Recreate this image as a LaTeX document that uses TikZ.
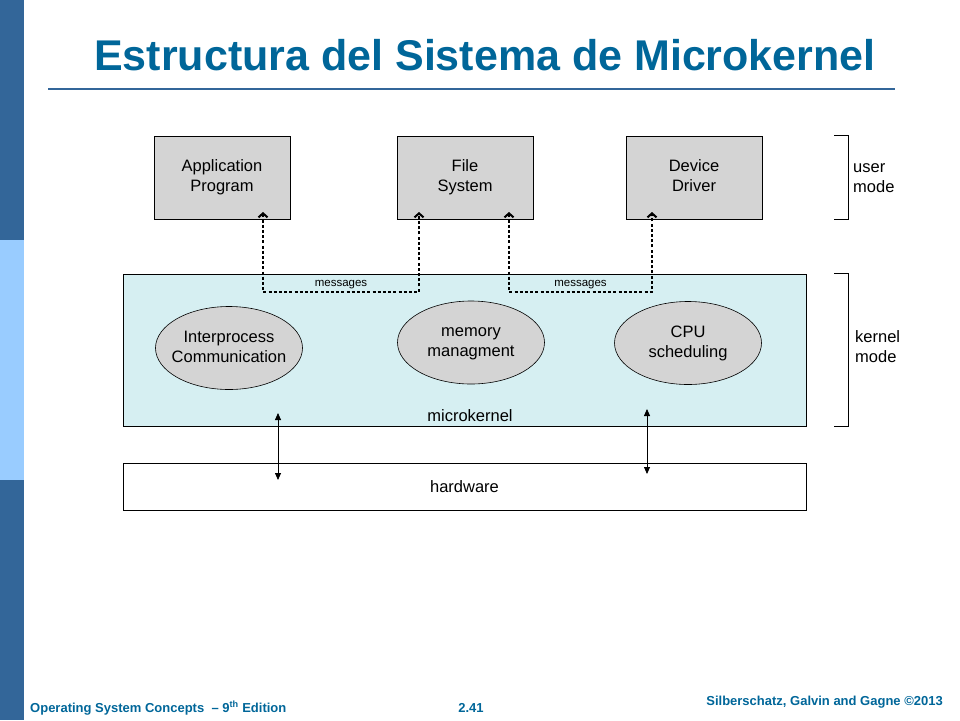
\documentclass[tikz,border=0pt]{standalone}
\usepackage{fontspec}
\setmainfont{Liberation Sans}
\usetikzlibrary{arrows.meta, shapes.geometric}
\definecolor{slideblue}{RGB}{51,102,153}
\definecolor{barlight}{RGB}{153,204,255}
\definecolor{titleblue}{RGB}{0,102,153}
\definecolor{boxgray}{RGB}{212,212,212}
\definecolor{kernelcyan}{RGB}{214,239,242}
% two centred lines, set a little lower in their node
\newcommand\twoline[2]{\raisebox{-2pt}{\strut#1}\\\raisebox{-2pt}{#2\strut}}
\tikzset{
  modbox/.style={draw=black, fill=boxgray, line width=0.8pt, minimum width=136pt,
    minimum height=83pt, align=center, inner sep=0pt, font=\fontsize{16.5}{20}\selectfont},
  layerbox/.style={draw=black, line width=0.8pt, minimum width=683pt, inner sep=0pt},
  service/.style={ellipse, draw=black, fill=boxgray, line width=0.6pt, minimum width=147pt,
    minimum height=83pt, inner xsep=-6pt, inner ysep=0pt, align=center,
    font=\fontsize{16.5}{20}\selectfont},
  lbl/.style={align=left, inner sep=0pt, font=\fontsize{16.5}{20}\selectfont},
  msg/.style={line width=2pt, dash pattern=on 3pt off 2.2pt,
    {Straight Barb[length=4pt,width=9pt,line width=2pt]}-{Straight Barb[length=4pt,width=9pt,line width=2pt]}},
  msglabel/.style={inner sep=2.5pt, font=\fontsize{11.5}{12}\selectfont},
  updown/.style={line width=0.8pt, {Triangle[length=7pt,width=6pt]}-{Triangle[length=7pt,width=6pt]}},
  footer/.style={inner sep=0pt, text=titleblue, font=\bfseries\fontsize{13}{15}\selectfont}
}
\begin{document}
\begin{tikzpicture}[x=1pt, y=-1pt]
  \useasboundingbox (0,0) rectangle (960,720);
  % slide frame
  \fill[slideblue] (0,0) rectangle (24,720);
  \fill[barlight] (0,240) rectangle (24,480);
  \node[text=titleblue, font=\bfseries\fontsize{43}{50}\selectfont] (title) at (485,55)
    {Estructura del Sistema de Microkernel};
  \draw[slideblue, line width=2pt] (48,89) -- (895,89);

  % user mode servers
  \node[modbox] (app) at (222,177.5) {\twoline{Application}{Program}};
  \node[modbox] (fs)  at (465,177.5) {\twoline{File}{System}};
  \node[modbox] (dev) at (694,177.5) {\twoline{Device}{Driver}};

  % kernel and hardware layers
  \node[layerbox, fill=kernelcyan, minimum height=152pt] (kernel) at (464.5,350) {};
  \node[layerbox, fill=white, minimum height=47pt, font=\fontsize{16.5}{20}\selectfont] (hw) at (464.5,486.5) {hardware};
  \node[lbl] (mk) at (470,416) {microkernel};

  \node[service] (ipc) at (229,348) {\twoline{Interprocess}{Communication}};
  \node[service] (mem) at (471,342.5) {\twoline{memory}{managment}};
  \node[service] (cpu) at (688,343) {\twoline{CPU}{scheduling}};

  % message passing through the kernel
  \coordinate (appmsg) at (263,212);
  \coordinate (fsmsgA) at (419,212);
  \coordinate (fsmsgB) at (509,212);
  \coordinate (devmsg) at (652,212);
  \draw[msg] (appmsg) -- ++(0,80) -| node[msglabel, pos=0.25, above] {messages} (fsmsgA);
  \draw[msg] (fsmsgB) -- ++(0,80) -| node[msglabel, pos=0.25, above] {messages} (devmsg);

  % kernel <-> hardware
  \coordinate (kup1) at (278,413);
  \coordinate (hdn1) at (278,480);
  \coordinate (kup2) at (647,409);
  \coordinate (hdn2) at (647,474);
  \draw[updown] (kup1) -- (hdn1);
  \draw[updown] (kup2) -- (hdn2);

  % mode brackets
  \draw[line width=0.8pt] (834,0 |- dev.north) -- (848,0 |- dev.north) -- (848,0 |- dev.south) -- (834,0 |- dev.south);
  \draw[line width=0.8pt] (834,0 |- kernel.north) -- (848,0 |- kernel.north) -- (848,0 |- kernel.south) -- (834,0 |- kernel.south);
  \node[lbl, anchor=west] (umode) at (853,178) {user\\mode};
  \node[lbl, anchor=west] (kmode) at (855,347) {kernel\\mode};

  % footer
  \node[footer, anchor=west] (ftl) at (30,708) {Operating System Concepts \ -- 9\textsuperscript{th} Edition};
  \node[footer] (ftc) at (471,708) {2.41};
  \node[footer, anchor=east] (ftr) at (943,702) {Silberschatz, Galvin and Gagne \textcopyright2013};
\end{tikzpicture}
\end{document}
